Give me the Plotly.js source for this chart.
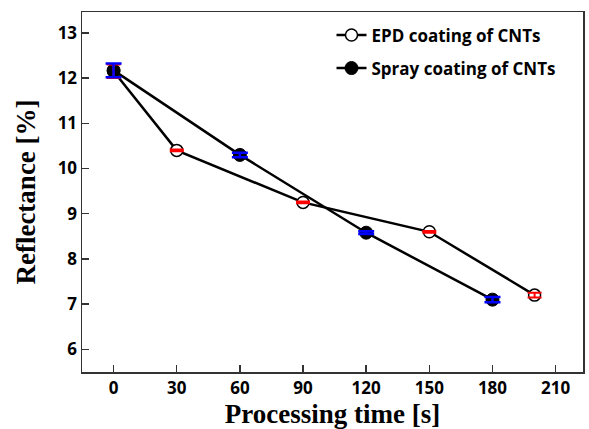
<!DOCTYPE html>
<html><head><meta charset="utf-8">
<script src="https://cdn.plot.ly/plotly-3.0.1.min.js"></script>
<style>html,body{margin:0;padding:0;background:#fff}#c{width:589px;height:429px}</style>
</head><body><div id="c"></div>
<script>
const epdTime = [0, 30, 90, 150, 200];
const epdRefl = [12.15, 10.4, 9.25, 8.6, 7.2];
const epdErr = [0.15, 0.02, 0.02, 0.02, 0.05];
const sprayTime = [0, 60, 120, 180];
const sprayRefl = [12.17, 10.3, 8.58, 7.1];
const sprayErr = [0.15, 0.05, 0.03, 0.06];
const xTicks = [0, 30, 60, 90, 120, 150, 180, 210];
const yTicks = [6, 7, 8, 9, 10, 11, 12, 13];

const traces = [
  {x: epdTime, y: epdRefl, name: 'EPD coating of CNTs', mode: 'lines+markers', legendgroup: 'a',
   line: {color: '#000', width: 2.5},
   marker: {symbol: 'circle', size: 12, color: '#fff', line: {color: '#000', width: 1.5}}},
  {x: sprayTime, y: sprayRefl, name: 'Spray coating of CNTs', mode: 'lines+markers', legendgroup: 'b',
   line: {color: '#000', width: 2.5},
   marker: {symbol: 'circle', size: 13, color: '#000', line: {color: '#000', width: 1}}},
  {x: epdTime, y: epdRefl, mode: 'markers', showlegend: false, hoverinfo: 'skip',
   marker: {size: 1, opacity: 0},
   error_y: {type: 'data', array: epdErr, visible: true, color: '#ff0000', thickness: 2, width: 7}},
  {x: sprayTime, y: sprayRefl, mode: 'markers', showlegend: false, hoverinfo: 'skip',
   marker: {size: 1, opacity: 0},
   error_y: {type: 'data', array: sprayErr, visible: true, color: '#0000ff', thickness: 2.5, width: 8}}
];

const layout = {
  width: 589, height: 429,
  margin: {l: 82, r: 6, t: 12, b: 57},
  paper_bgcolor: '#fff', plot_bgcolor: '#fff',
  showlegend: true,
  legend: {x: 0.498, y: 0.985, xanchor: 'left', yanchor: 'top', bgcolor: 'rgba(0,0,0,0)',
           font: {family: 'Open Sans, sans-serif', size: 17, color: '#000', weight: 'bold'},
           traceorder: 'grouped', tracegroupgap: 8},
  xaxis: {range: [-15, 223], tickvals: xTicks, ticktext: xTicks.map(String),
          ticks: 'inside', ticklen: 7, tickwidth: 1.5, tickcolor: '#333',
          showline: true, linecolor: '#333', linewidth: 1.5, mirror: true,
          showgrid: false, zeroline: false,
          tickfont: {family: 'Open Sans, sans-serif', size: 17, color: '#000', weight: 'bold'},
          title: {text: 'Processing time [s]', standoff: 2,
                  font: {family: 'Liberation Serif, serif', size: 27, color: '#000', weight: 'bold'}}},
  yaxis: {range: [5.5, 13.46], tickvals: yTicks, ticktext: yTicks.map(String),
          ticks: 'inside', ticklen: 7, tickwidth: 1.5, tickcolor: '#333',
          showline: true, linecolor: '#333', linewidth: 1.5, mirror: true,
          showgrid: false, zeroline: false,
          tickfont: {family: 'Open Sans, sans-serif', size: 17, color: '#000', weight: 'bold'},
          title: {text: 'Reflectance [%]', standoff: 14,
                  font: {family: 'Liberation Serif, serif', size: 27, color: '#000', weight: 'bold'}}}
};
Plotly.newPlot('c', traces, layout, {displayModeBar: false, staticPlot: true});
</script></body></html>
